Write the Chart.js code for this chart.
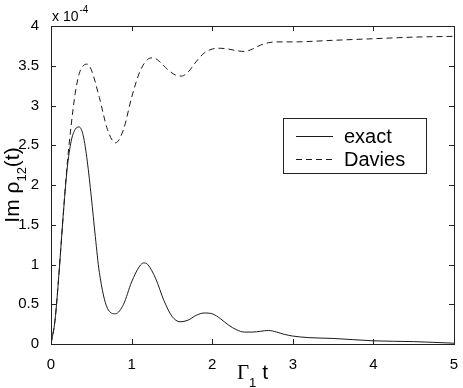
<!DOCTYPE html>
<html>
<head>
<meta charset="utf-8">
<script src="https://cdn.jsdelivr.net/npm/chart.js@4/dist/chart.umd.min.js"></script>
<style>
  body { margin: 0; background: #fff; }
  #wrap { width: 463px; height: 388px; }
</style>
</head>
<body>
<div id="wrap"><canvas id="myChart" width="463" height="388"></canvas></div>
<script>
// values are in units of 1e-4 (the axis shows "x 10^-4")
var exactT = [0, 0.05, 0.1, 0.15, 0.2, 0.25, 0.3, 0.35, 0.4, 0.45, 0.5, 0.55, 0.6, 0.7, 0.8, 0.9, 1.0, 1.1, 1.15, 1.2, 1.3, 1.4, 1.5, 1.6, 1.7, 1.8, 1.9, 2.0, 2.1, 2.2, 2.3, 2.4, 2.5, 2.6, 2.7, 2.8, 2.9, 3.0, 3.2, 3.5, 4.0, 4.5, 5.0];
var exactV = [0, 0.3, 0.9, 1.6, 2.2, 2.55, 2.7, 2.73, 2.62, 2.3, 1.85, 1.35, 0.9, 0.45, 0.38, 0.5, 0.78, 0.98, 1.02, 1.0, 0.82, 0.55, 0.35, 0.28, 0.3, 0.36, 0.39, 0.38, 0.32, 0.24, 0.18, 0.15, 0.15, 0.16, 0.17, 0.15, 0.12, 0.1, 0.08, 0.07, 0.04, 0.03, 0.01];

var daviesT = [0, 0.05, 0.1, 0.15, 0.2, 0.25, 0.3, 0.35, 0.4, 0.45, 0.5, 0.6, 0.7, 0.8, 0.9, 1.0, 1.1, 1.2, 1.27, 1.35, 1.45, 1.55, 1.62, 1.7, 1.8, 1.9, 2.0, 2.1, 2.2, 2.3, 2.4, 2.5, 2.6, 2.7, 2.8, 3.0, 3.5, 4.0, 4.5, 5.0];
var daviesV = [0, 0.3, 0.9, 1.6, 2.25, 2.75, 3.15, 3.4, 3.5, 3.52, 3.45, 3.1, 2.7, 2.53, 2.7, 3.1, 3.42, 3.58, 3.6, 3.55, 3.45, 3.38, 3.37, 3.42, 3.55, 3.66, 3.71, 3.72, 3.71, 3.69, 3.68, 3.71, 3.76, 3.79, 3.8, 3.8, 3.82, 3.84, 3.86, 3.87];

var seriesNames = ['exact', 'Davies'];
var xTicks = [0, 1, 2, 3, 4, 5];
var yTicks = [0, 0.5, 1, 1.5, 2, 2.5, 3, 3.5, 4];

function toPoints(ts, vs) {
    return ts.map(function(t, i) { return { x: t, y: vs[i] }; });
}

var lineColor = '#1a1a1a';
var font = 'Helvetica, "Liberation Sans", Arial, sans-serif';

//plugin to draw the matlab style box, inward ticks, titles and legend
var matlabBox = {
    id: 'matlabBox',
    afterDraw: function(chart) {
        var ctx = chart.ctx;
        var a = chart.chartArea;
        var xs = chart.scales.x, ys = chart.scales.y;
        ctx.save();
        ctx.strokeStyle = '#222';
        ctx.lineWidth = 1;
        ctx.strokeRect(Math.round(a.left) + 0.5, Math.round(a.top) + 0.5, Math.round(a.right - a.left), Math.round(a.bottom - a.top));
        ctx.beginPath();
        xTicks.forEach(function(v) {
            var px = Math.round(xs.getPixelForValue(v)) + 0.5;
            ctx.moveTo(px, a.bottom); ctx.lineTo(px, a.bottom - 5);
            ctx.moveTo(px, a.top); ctx.lineTo(px, a.top + 5);
        });
        yTicks.forEach(function(v) {
            var py = Math.round(ys.getPixelForValue(v)) + 0.5;
            ctx.moveTo(a.left, py); ctx.lineTo(a.left + 5, py);
            ctx.moveTo(a.right, py); ctx.lineTo(a.right - 5, py);
        });
        ctx.stroke();

        ctx.fillStyle = '#000';
        ctx.textBaseline = 'alphabetic';
        // exponent label
        ctx.font = '14px ' + font;
        ctx.textAlign = 'left';
        ctx.fillText('x 10', 52, 21);
        var w = ctx.measureText('x 10').width;
        ctx.font = '10px ' + font;
        ctx.fillText('-4', 52 + w + 1, 13);

        // x axis title
        ctx.font = '21px "Liberation Serif", serif';
        var cx = (a.left + a.right) / 2;
        var g = ctx.measureText('\u0393').width;
        ctx.font = '13px ' + font;
        var s1 = ctx.measureText('1').width;
        ctx.font = '21px ' + font;
        var tw = ctx.measureText(' t').width;
        var start = cx - (g + s1 + tw) / 2;
        ctx.font = '21px "Liberation Serif", serif';
        ctx.fillText('\u0393', start, 379);
        ctx.font = '13px ' + font;
        ctx.fillText('1', start + g, 387);
        ctx.font = '21px ' + font;
        ctx.fillText(' t', start + g + s1, 379);

        // y axis title
        ctx.save();
        ctx.translate(19, (a.top + a.bottom) / 2);
        ctx.rotate(-Math.PI / 2);
        ctx.font = '21px ' + font;
        var p1 = 'Im \u03c1';
        var w1 = ctx.measureText(p1).width;
        ctx.font = '13px ' + font;
        var w2 = ctx.measureText('12').width;
        ctx.font = '21px ' + font;
        var w3 = ctx.measureText('(t)').width;
        var sx = -(w1 + w2 + w3) / 2;
        ctx.fillText(p1, sx, 0);
        ctx.font = '13px ' + font;
        ctx.fillText('12', sx + w1, 7);
        ctx.font = '21px ' + font;
        ctx.fillText('(t)', sx + w1 + w2, 0);
        ctx.restore();

        // legend
        ctx.fillStyle = '#fff';
        ctx.fillRect(283, 118, 143, 55);
        ctx.strokeStyle = '#222';
        ctx.strokeRect(283.5, 118.5, 143, 55);
        ctx.font = '20px ' + font;
        ctx.fillStyle = '#000';
        chart.data.datasets.forEach(function(ds, i) {
            var ly = 136 + i * 23;
            ctx.beginPath();
            ctx.setLineDash(ds.borderDash || []);
            ctx.strokeStyle = ds.borderColor;
            ctx.moveTo(296, ly + 0.5); ctx.lineTo(333, ly + 0.5);
            ctx.stroke();
            ctx.setLineDash([]);
            ctx.fillText(ds.label, 344, ly + 7);
        });
        ctx.restore();
    }
};

var ctx = document.getElementById('myChart').getContext('2d');
var myChart = new Chart(ctx, {
    type: 'line',
    data: {
        datasets: [{
            label: seriesNames[0],
            data: toPoints(exactT, exactV),
            borderColor: lineColor,
            borderWidth: 1,
            pointRadius: 0,
            cubicInterpolationMode: 'monotone'
        }, {
            label: seriesNames[1],
            data: toPoints(daviesT, daviesV),
            borderColor: lineColor,
            borderWidth: 1,
            borderDash: [6, 4],
            pointRadius: 0,
            cubicInterpolationMode: 'monotone'
        }]
    },
    options: {
        responsive: false,
        animation: false,
        layout: { padding: { top: 26, right: 9, left: 0, bottom: 0 } },
        plugins: { legend: { display: false }, tooltip: { enabled: false } },
        scales: {
            x: {
                type: 'linear', min: 0, max: 5,
                grid: { display: false },
                border: { display: false },
                afterFit: function(s) { s.height = 44; },
                afterBuildTicks: function(s) { s.ticks = xTicks.map(function(v) { return { value: v }; }); },
                ticks: { color: '#000', padding: 4, font: { family: font, size: 15 }, maxRotation: 0,
                    callback: function(v) { return String(v); } }
            },
            y: {
                type: 'linear', min: 0, max: 4,
                grid: { display: false },
                border: { display: false },
                afterFit: function(s) { s.width = 51; },
                afterBuildTicks: function(s) { s.ticks = yTicks.map(function(v) { return { value: v }; }); },
                ticks: { color: '#000', padding: 4, font: { family: font, size: 15 },
                    callback: function(v) { return String(v); } }
            }
        }
    },
    plugins: [matlabBox]
});
</script>
</body>
</html>
